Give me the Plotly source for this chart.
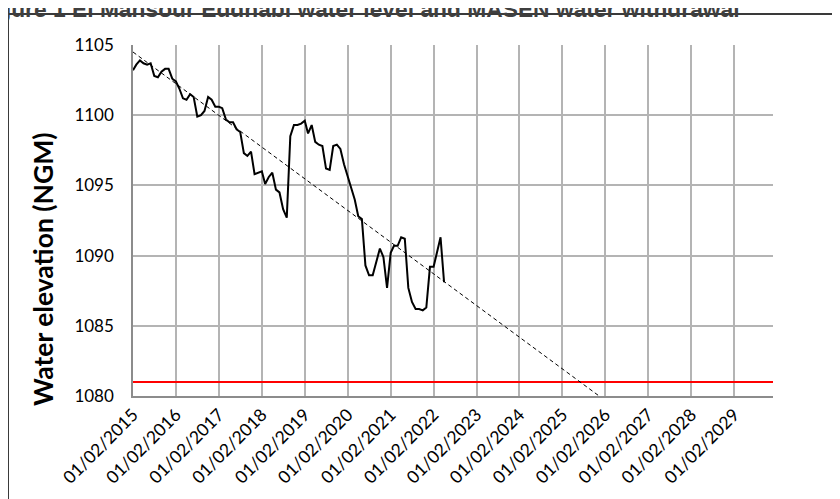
import pandas as pd
import plotly.graph_objects as go

# ---- data ----
first_month = "2015-02-01"
water_level = [
    1103.2, 1103.6, 1103.9, 1103.7, 1103.6, 1103.7, 1102.8, 1102.7, 1103.1, 1103.3,
    1103.3, 1102.6, 1102.4, 1101.9, 1101.2, 1101.1, 1101.5, 1101.3, 1099.9, 1100.0,
    1100.3, 1101.3, 1101.1, 1100.6, 1100.6, 1100.5, 1099.7, 1099.5, 1099.5, 1099.0,
    1098.8, 1097.3, 1097.1, 1097.4, 1095.8, 1095.9, 1096.0, 1095.1, 1095.6, 1095.9,
    1094.7, 1094.5, 1093.3, 1092.7, 1098.5, 1099.3, 1099.3, 1099.4, 1099.6, 1098.7,
    1099.3, 1098.1, 1097.9, 1097.8, 1096.2, 1096.1, 1097.8, 1097.9, 1097.6, 1096.5,
    1095.7, 1094.9, 1094.0, 1092.8, 1092.6, 1089.3, 1088.6, 1088.6, 1089.5, 1090.5,
    1089.9, 1087.7, 1090.2, 1090.7, 1090.7, 1091.3, 1091.2, 1087.7, 1086.7, 1086.2,
    1086.2, 1086.1, 1086.3, 1089.2, 1089.2, 1090.3, 1091.3, 1088.1,
]
months = pd.date_range(first_month, periods=len(water_level), freq="MS")

trend_dates = ["2015-02-01", "2025-12-10"]
trend_values = [1104.5, 1080.0]

threshold_dates = ["2015-02-01", "2029-12-28"]
threshold_values = [1081.0, 1081.0]

x_range = ["2015-02-01", "2029-12-28"]
y_range = [1080, 1105]

title_text = "Figure 1 El Mansour Eddhabi water level and MASEN water withdrawal"
y_title = "Water elevation (NGM)"

# ---- figure ----
W, H = 840, 499
OFF = 8  # page body margin
L, R, T, B = 125, 75, 37, 111
pw, ph = W - L - R, H - T - B

def px_x(p):
    return (p - OFF - L) / pw

def px_y(p):
    return (H - B - (p - OFF)) / ph

fig = go.Figure()
fig.add_trace(go.Scatter(x=threshold_dates, y=threshold_values, mode="lines",
                         line=dict(color="#ff0000", width=2), showlegend=False, hoverinfo="skip"))
fig.add_trace(go.Scatter(x=trend_dates, y=trend_values, mode="lines",
                         line=dict(color="#000000", width=1, dash="4px,3px"), showlegend=False))
fig.add_trace(go.Scatter(x=months, y=water_level, mode="lines",
                         line=dict(color="#000000", width=2), showlegend=False))

fig.update_layout(
    width=W, height=H,
    margin=dict(l=L, r=R, t=T, b=B, pad=0),
    paper_bgcolor="white", plot_bgcolor="white",
    font=dict(family="Lato", size=17, color="#000000"),
    xaxis=dict(
        range=x_range, type="date", tick0="2015-02-01", dtick="M12",
        tickformat="%d/%m/%Y", tickangle=-45, ticks="",
        showgrid=True, gridcolor="#b4b4b4", gridwidth=1.5,
        showline=True, linecolor="#8c8c8c", linewidth=1.5,
        zeroline=False, tickfont=dict(family="Lato", size=17.5, color="#000"),
    ),
    yaxis=dict(
        range=y_range, dtick=5, ticks="", ticklabelstandoff=14,
        showgrid=True, gridcolor="#b4b4b4", gridwidth=1.5,
        showline=True, linecolor="#8c8c8c", linewidth=1.5,
        zeroline=False, tickfont=dict(family="Lato", size=17, color="#000"),
    ),
    shapes=[dict(type="rect", xref="paper", yref="paper",
                 x0=px_x(8), x1=px_x(860), y0=px_y(520), y1=px_y(14),
                 line=dict(color="#3a3a3a", width=2), fillcolor="rgba(0,0,0,0)", layer="below")],
    annotations=[
        dict(text=title_text, xref="paper", yref="paper",
             x=px_x(742), y=px_y(23.5), xanchor="right", yanchor="bottom",
             showarrow=False,
             font=dict(family="Liberation Sans", size=22.8, color="#3f3f3f", weight="bold")),
        dict(text=y_title, xref="paper", yref="paper", textangle=-90,
             x=px_x(42.5), y=px_y(269.5), xanchor="center", yanchor="middle",
             showarrow=False,
             font=dict(family="Lato", size=26.5, color="#000", weight="bold")),
    ],
)

fig.write_html("out.html")
